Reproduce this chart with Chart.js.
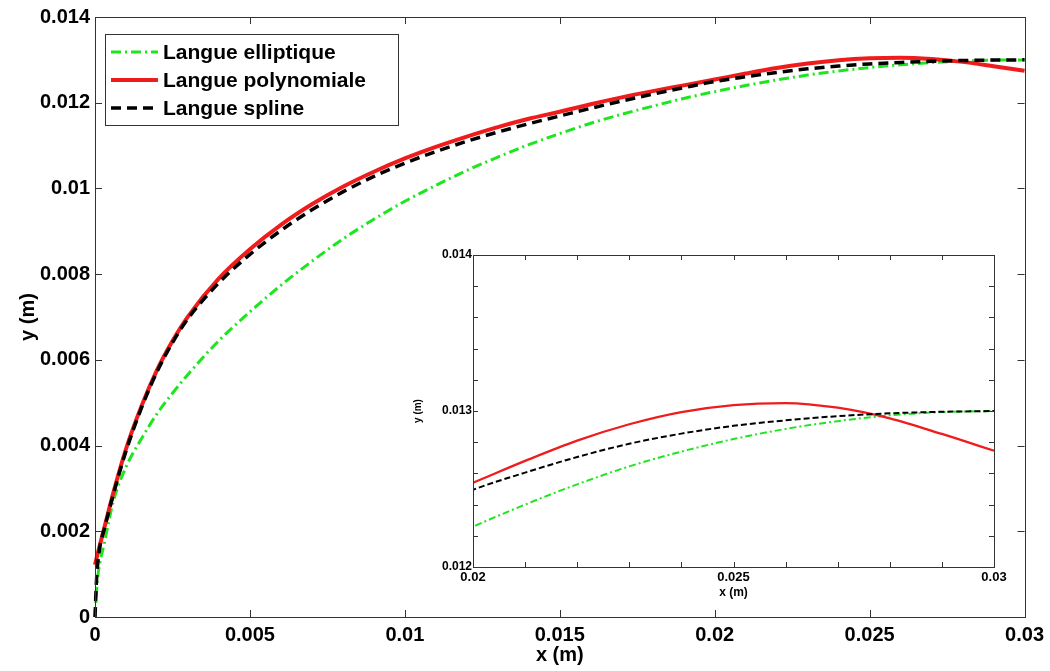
<!DOCTYPE html>
<html>
<head>
<meta charset="utf-8">
<script src="https://cdn.jsdelivr.net/npm/chart.js@4.4.1/dist/chart.umd.min.js"></script>
<style>
  html, body { margin: 0; padding: 0; background: #fff; }
  #wrap { position: relative; width: 1050px; height: 671px; }
  #mainChart { position: absolute; left: 0; top: 0; }
  #zoomChart { position: absolute; left: 400px; top: 240px; }
</style>
</head>
<body>
<div id="wrap">
  <canvas id="mainChart" width="1050" height="671"></canvas>
  <canvas id="zoomChart" width="610" height="370"></canvas>
</div>
<script>
// Tongue profiles, x and y in metres
const xEllip = [0, 0.00005, 0.0001, 0.0003, 0.0006, 0.001, 0.0015, 0.002, 0.0025, 0.003, 0.004, 0.005, 0.006, 0.007, 0.008, 0.009, 0.010, 0.011, 0.012, 0.013, 0.014, 0.015, 0.016, 0.017, 0.018, 0.019, 0.020, 0.021, 0.022, 0.023, 0.024, 0.025, 0.026, 0.027, 0.028, 0.029, 0.030];
const yEllip = [0, 0.00060, 0.00100, 0.00172, 0.00272, 0.00350, 0.00416, 0.00474, 0.00522, 0.00566, 0.00645, 0.00712, 0.00774, 0.00830, 0.00882, 0.00928, 0.00970, 0.01007, 0.01042, 0.01073, 0.01102, 0.01128, 0.01152, 0.01173, 0.01192, 0.01210, 0.012258, 0.01240, 0.01253, 0.012645, 0.01274, 0.01282, 0.012885, 0.012935, 0.012972, 0.012993, 0.01300];

const xPoly = [0, 0.0001, 0.0003, 0.0006, 0.001, 0.0015, 0.002, 0.0025, 0.003, 0.004, 0.005, 0.006, 0.007, 0.008, 0.009, 0.010, 0.011, 0.012, 0.013, 0.014, 0.015, 0.016, 0.017, 0.018, 0.019, 0.020, 0.021, 0.022, 0.023, 0.024, 0.025, 0.026, 0.027, 0.028, 0.029, 0.030];
const yPoly = [0.00122, 0.00152, 0.00208, 0.00292, 0.00392, 0.00492, 0.00576, 0.00644, 0.00701, 0.00790, 0.00858, 0.00915, 0.00963, 0.01004, 0.01039, 0.01070, 0.01097, 0.01121, 0.01143, 0.011625, 0.01179, 0.011965, 0.012125, 0.01227, 0.012405, 0.01254, 0.01268, 0.01281, 0.012915, 0.012993, 0.013038, 0.013051, 0.013021, 0.012953, 0.012853, 0.012745];

const xSpline = [0, 0.00005, 0.00015, 0.0003, 0.0006, 0.001, 0.0015, 0.002, 0.0025, 0.003, 0.004, 0.005, 0.006, 0.007, 0.008, 0.009, 0.010, 0.011, 0.012, 0.013, 0.014, 0.015, 0.016, 0.017, 0.018, 0.019, 0.020, 0.021, 0.022, 0.023, 0.024, 0.025, 0.026, 0.027, 0.028, 0.029, 0.030];
const ySpline = [0, 0.00088, 0.00160, 0.00205, 0.00288, 0.00387, 0.00488, 0.00572, 0.00640, 0.00696, 0.00780, 0.00846, 0.00902, 0.00950, 0.00992, 0.01028, 0.01059, 0.01086, 0.01110, 0.011315, 0.01151, 0.01169, 0.01187, 0.01204, 0.01220, 0.01235, 0.012495, 0.012605, 0.012705, 0.01279, 0.012855, 0.012905, 0.01294, 0.012967, 0.012985, 0.012995, 0.01300];

// Axis ticks
const xTickVals = [0, 0.005, 0.01, 0.015, 0.02, 0.025, 0.03];
const xTickLabels = ['0', '0.005', '0.01', '0.015', '0.02', '0.025', '0.03'];
const yTickVals = [0, 0.002, 0.004, 0.006, 0.008, 0.01, 0.012, 0.014];
const yTickLabels = ['0', '0.002', '0.004', '0.006', '0.008', '0.01', '0.012', '0.014'];

// Zoomed inset
const zoomXTickVals = [0.02, 0.025, 0.03];
const zoomXTickLabels = ['0.02', '0.025', '0.03'];
const zoomYTickVals = [0.012, 0.013, 0.014];
const zoomYTickLabels = ['0.012', '0.013', '0.014'];
const zoomXMinor = [0.02, 0.021, 0.022, 0.023, 0.024, 0.025, 0.026, 0.027, 0.028, 0.029, 0.03];
const zoomYMinor = [0.012, 0.0122, 0.0124, 0.0126, 0.0128, 0.013, 0.0132, 0.0134, 0.0136, 0.0138, 0.014];

const FONT = "'Liberation Sans', Arial, Helvetica, sans-serif";
const NARROW = "'Liberation Sans Narrow', 'Liberation Sans', Arial, sans-serif";
const GREEN = '#1ee61e';
const RED = '#ee1c1c';
const BLACK = '#000000';
const FRAME = '#333333';

const series = [
  { label: 'Langue elliptique', xs: xEllip, ys: yEllip, color: GREEN, width: 3, dash: [10, 4, 2, 4], zWidth: 2, zDash: [7, 3, 2, 3], order: 2 },
  { label: 'Langue polynomiale', xs: xPoly, ys: yPoly, color: RED, width: 4, dash: [], zWidth: 2.3, zDash: [], order: 1 },
  { label: 'Langue spline', xs: xSpline, ys: ySpline, color: BLACK, width: 3.5, dash: [10, 6], zWidth: 2, zDash: [6, 3], order: 0 }
];

function toPoints(xs, ys) {
  return xs.map((x, i) => ({ x: x, y: ys[i] }));
}

function makeDatasets(zoomed) {
  return series.map(s => ({
    label: s.label,
    data: toPoints(s.xs, s.ys),
    borderColor: s.color,
    borderWidth: zoomed ? s.zWidth : s.width,
    borderDash: zoomed ? s.zDash : s.dash,
    pointRadius: 0,
    fill: false,
    cubicInterpolationMode: 'monotone',
    order: s.order,
    clip: zoomed ? 0 : 2
  }));
}

// box around plot area + inward tick marks on all four sides
const frameTicks = {
  id: 'frameTicks',
  afterDraw(chart, args, opts) {
    const { ctx, chartArea: a, scales: { x, y } } = chart;
    const len = opts.length;
    ctx.save();
    ctx.strokeStyle = FRAME;
    ctx.lineWidth = 1;
    ctx.setLineDash([]);
    ctx.strokeRect(Math.round(a.left) + 0.5, Math.round(a.top) + 0.5,
      Math.round(a.right - a.left), Math.round(a.bottom - a.top));
    ctx.beginPath();
    opts.xs.forEach(v => {
      const px = Math.round(x.getPixelForValue(v)) + 0.5;
      ctx.moveTo(px, a.bottom); ctx.lineTo(px, a.bottom - len);
      ctx.moveTo(px, a.top); ctx.lineTo(px, a.top + len);
    });
    opts.ys.forEach(v => {
      const py = Math.round(y.getPixelForValue(v)) + 0.5;
      ctx.moveTo(a.left, py); ctx.lineTo(a.left + len, py);
      ctx.moveTo(a.right, py); ctx.lineTo(a.right - len, py);
    });
    ctx.stroke();
    ctx.restore();
  }
};

// legend box in the upper left corner of the main plot
const boxLegend = {
  id: 'boxLegend',
  afterDraw(chart, args, opts) {
    if (!opts.show) return;
    const { ctx, chartArea: a } = chart;
    const left = a.left + 10, top = a.top + 17, w = 293, h = 91;
    ctx.save();
    ctx.fillStyle = '#fff';
    ctx.fillRect(left, top, w, h);
    ctx.strokeStyle = FRAME;
    ctx.lineWidth = 1;
    ctx.strokeRect(left + 0.5, top + 0.5, w, h);
    ctx.font = 'bold 21px ' + FONT;
    ctx.textBaseline = 'middle';
    ctx.fillStyle = '#000';
    series.forEach((s, i) => {
      const cy = top + 18 + i * 28;
      ctx.beginPath();
      ctx.strokeStyle = s.color;
      ctx.lineWidth = s.width;
      ctx.setLineDash(s.dash);
      ctx.moveTo(left + 6, cy);
      ctx.lineTo(left + 53, cy);
      ctx.stroke();
      ctx.setLineDash([]);
      ctx.fillText(s.label, left + 58, cy + 1);
    });
    ctx.restore();
  }
};

Chart.register(frameTicks, boxLegend);

// main chart
new Chart(document.getElementById('mainChart').getContext('2d'), {
  type: 'line',
  data: { datasets: makeDatasets(false) },
  options: {
    responsive: false,
    animation: false,
    layout: { padding: { left: 0, top: 15, right: 23, bottom: 0 } },
    plugins: {
      legend: { display: false },
      tooltip: { enabled: false },
      frameTicks: { xs: xTickVals, ys: yTickVals, length: 7 },
      boxLegend: { show: true }
    },
    scales: {
      x: {
        type: 'linear', min: 0, max: 0.03,
        afterBuildTicks: s => { s.ticks = xTickVals.map(v => ({ value: v })); },
        afterFit: s => { s.height = 54; },
        grid: { display: false, drawTicks: false },
        border: { display: false },
        ticks: {
          autoSkip: false, maxRotation: 0, padding: 6, color: '#000',
          font: { family: FONT, size: 20, weight: 'bold' },
          callback: (v, i) => xTickLabels[i]
        },
        title: {
          display: true, text: 'x (m)', color: '#000',
          font: { family: FONT, size: 20, weight: 'bold' },
          padding: { top: 0, bottom: 4 }
        }
      },
      y: {
        type: 'linear', min: 0, max: 0.014,
        afterBuildTicks: s => { s.ticks = yTickVals.map(v => ({ value: v })); },
        afterFit: s => { s.width = 95; },
        grid: { display: false, drawTicks: false },
        border: { display: false },
        ticks: {
          autoSkip: false, padding: 5, color: '#000',
          font: { family: FONT, size: 20, weight: 'bold' },
          callback: (v, i) => yTickLabels[i]
        },
        title: {
          display: true, text: 'y (m)', color: '#000',
          font: { family: FONT, size: 20, weight: 'bold' },
          padding: { top: 16, bottom: 0 }
        }
      }
    }
  }
});

// zoomed inset
new Chart(document.getElementById('zoomChart').getContext('2d'), {
  type: 'line',
  data: { datasets: makeDatasets(true) },
  options: {
    responsive: false,
    animation: false,
    layout: { padding: { left: 0, top: 15, right: 16, bottom: 0 } },
    plugins: {
      legend: { display: false },
      tooltip: { enabled: false },
      frameTicks: { xs: zoomXMinor, ys: zoomYMinor, length: 5 },
      boxLegend: { show: false }
    },
    scales: {
      x: {
        type: 'linear', min: 0.02, max: 0.03,
        afterBuildTicks: s => { s.ticks = zoomXTickVals.map(v => ({ value: v })); },
        afterFit: s => { s.height = 43; },
        grid: { display: false, drawTicks: false },
        border: { display: false },
        ticks: {
          autoSkip: false, maxRotation: 0, padding: 3, color: '#000',
          font: { family: NARROW, size: 13, weight: 'bold' },
          callback: (v, i) => zoomXTickLabels[i]
        },
        title: {
          display: true, text: 'x (m)', color: '#000',
          font: { family: NARROW, size: 12, weight: 'bold' },
          padding: { top: 0, bottom: 10 }
        }
      },
      y: {
        type: 'linear', min: 0.012, max: 0.014,
        afterBuildTicks: s => { s.ticks = zoomYTickVals.map(v => ({ value: v })); },
        afterFit: s => { s.width = 73; },
        grid: { display: false, drawTicks: false },
        border: { display: false },
        ticks: {
          autoSkip: false, padding: 1, color: '#000',
          font: { family: NARROW, size: 12, weight: 'bold' },
          callback: (v, i) => zoomYTickLabels[i]
        },
        title: {
          display: true, text: 'y (m)', color: '#000',
          font: { family: NARROW, size: 10, weight: 'bold' },
          padding: { top: 12, bottom: 0 }
        }
      }
    }
  }
});
</script>
</body>
</html>
